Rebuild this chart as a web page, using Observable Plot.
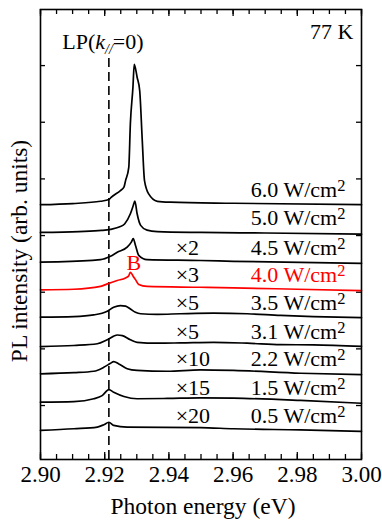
<!DOCTYPE html>
<html><head><meta charset="utf-8">
<script src="https://cdn.jsdelivr.net/npm/d3@7"></script>
<script src="https://cdn.jsdelivr.net/npm/@observablehq/plot@0.6"></script>
<style>body{margin:0;background:#fff} svg{display:block} svg text{font-family:"Liberation Serif","Times New Roman",serif}</style>
</head><body><div id="chart"></div>
<script>
// Excitation power densities (W/cm^2), bottom to top
const powers = ["0.5", "1.5", "2.2", "3.1", "3.5", "4.0", "4.5", "5.0", "6.0"];
const multipliers = ["×20", "×15", "×10", "×5", "×5", "×3", "×2", "", ""];
// vertical offsets of each spectrum (arb. units)
const offsets = [1.12, 2.12, 3.12, 4.08, 5.12, 6.085, 7.07, 8.11, 9.09];
const highlight = "4.0";
// spectra: [photon energy (eV), PL intensity above offset (arb. units)]
const s05 = [[2.900,0.00],[2.9104,0.06],[2.9177,0.12],[2.9197,0.20],[2.9213,0.29],[2.9228,0.18],[2.9270,0.12],[2.9498,0.10],[2.9601,0.06],[2.9810,0.02],[3.000,-0.03]];
const s15 = [[2.900,0.00],[2.9104,0.02],[2.9166,0.12],[2.9192,0.23],[2.9213,0.44],[2.9228,0.35],[2.9260,0.20],[2.9301,0.12],[2.9395,0.13],[2.9498,0.15],[2.9601,0.14],[2.9810,0.06],[3.000,-0.04]];
const s22 = [[2.900,0.00],[2.9104,0.04],[2.9166,0.09],[2.9197,0.23],[2.9218,0.37],[2.9228,0.43],[2.9244,0.35],[2.9270,0.18],[2.9301,0.12],[2.9395,0.09],[2.9498,0.14],[2.9601,0.12],[2.9810,0.02],[3.000,-0.03]];
const s31 = [[2.900,0.00],[2.9104,0.04],[2.9177,0.10],[2.9208,0.24],[2.9239,0.41],[2.9255,0.39],[2.9280,0.24],[2.9301,0.15],[2.9364,0.12],[2.9436,0.13],[2.9539,0.15],[2.9644,0.12],[2.9748,0.07],[2.9850,0.06],[3.000,0.01]];
const s35 = [[2.900,0.00],[2.9104,0.02],[2.9166,0.08],[2.9208,0.21],[2.9228,0.35],[2.9249,0.41],[2.9265,0.39],[2.9280,0.29],[2.9296,0.17],[2.9312,0.12],[2.9364,0.10],[2.9436,0.12],[2.9539,0.14],[2.9644,0.12],[2.9748,0.06],[2.9850,0.02],[3.000,-0.02]];
const s40 = [[2.900,0.00],[2.9104,0.02],[2.9187,0.12],[2.9208,0.21],[2.9239,0.33],[2.9265,0.42],[2.9275,0.50],[2.9280,0.62],[2.9289,0.47],[2.9296,0.36],[2.9306,0.19],[2.9332,0.12],[2.9498,0.09],[2.9601,0.07],[2.9800,0.02],[3.000,-0.03]];
const s45 = [[2.900,-0.01],[2.905,0.00],[2.9187,0.08],[2.9218,0.20],[2.9239,0.34],[2.9270,0.52],[2.9283,0.70],[2.9289,0.82],[2.9296,0.58],[2.9306,0.23],[2.9332,0.08],[2.9498,0.05],[2.9601,0.02],[3.000,-0.05]];
const s50 = [[2.900,0.00],[2.912,0.03],[2.9190,0.07],[2.9218,0.11],[2.9245,0.19],[2.9262,0.30],[2.9280,0.66],[2.9289,0.95],[2.9294,1.11],[2.9301,0.66],[2.9312,0.25],[2.9332,0.08],[2.9364,0.03],[2.950,0.00],[2.970,-0.02],[3.000,-0.06]];
const s60 = [[2.900,0.00],[2.910,0.04],[2.9187,0.12],[2.9213,0.18],[2.9220,0.26],[2.9249,0.50],[2.9260,0.62],[2.9265,0.85],[2.9275,1.32],[2.9280,2.87],[2.9288,4.15],[2.9292,4.95],[2.9301,4.50],[2.9309,4.03],[2.9317,2.27],[2.9324,0.85],[2.9337,0.38],[2.9364,0.12],[2.9405,0.09],[2.9601,0.05],[3.000,0.00]];
const spectra = [s05, s15, s22, s31, s35, s40, s45, s50, s60];
const xTicks = [2.90, 2.92, 2.94, 2.96, 2.98, 3.00];
const lpEnergy = 2.9213;   // LP(k=0) position
const peakB = 2.9291;      // "B" peak position

// layout constants
const W = 382, H = 521, mL = 40, mR = 21, mT = 9, mB = 62;
const FW = W - mL - mR, FH = H - mT - mB;
const yDomain = [0.095, 15.98];
const minorTicks = d3.range(0, 21).map(i => +(2.9 + i * 0.005).toFixed(3));
const yTicks = [2, 4, 6, 8, 10, 12, 14];

const rows = spectra.flatMap((s, i) => s.map(([e, I]) => ({e, v: offsets[i] + I, p: powers[i],
  c: powers[i] === highlight ? "#ff0000" : "#000000"})));
const lab = powers.map((p, i) => ({p, m: multipliers[i], y: offsets[i] + 0.26,
  c: p === highlight ? "#ff0000" : "#000000"}));

const chart = Plot.plot({
  width: W, height: H, marginLeft: mL, marginRight: mR, marginTop: mT, marginBottom: mB,
  style: "font-family: 'Liberation Serif', 'Times New Roman', serif; font-size: 23px; background: #fff; color: #000;",
  x: {domain: [2.90, 3.00], axis: null},
  y: {domain: yDomain, axis: null},
  color: {type: "identity"},
  marks: [
    Plot.tickX(minorTicks, {insetTop: FH - 5, strokeWidth: 1.3}),
    Plot.tickX(minorTicks, {insetBottom: FH - 5, strokeWidth: 1.3}),
    Plot.tickX(xTicks, {insetTop: FH - 7, strokeWidth: 1.3}),
    Plot.tickX(xTicks, {insetBottom: FH - 7, strokeWidth: 1.3}),
    Plot.tickY(yTicks, {insetRight: FW - 5, strokeWidth: 1.3}),
    Plot.tickY(yTicks, {insetLeft: FW - 5, strokeWidth: 1.3}),
    Plot.axisX(xTicks, {tickSize: 0, tickPadding: 6, tickFormat: d => d.toFixed(2), fontSize: 23, label: null}),
    Plot.ruleX([lpEnergy], {y1: yDomain[0], y2: 14.25, strokeDasharray: "9,5", strokeWidth: 1.6}),
    Plot.line(rows, {x: "e", y: "v", z: "p", stroke: "c", strokeWidth: 1.7, curve: "monotone-x"}),
    Plot.text(lab, {x: () => 2.995, y: "y", text: d => d.p + " W/cm²", fill: "c", textAnchor: "end", lineAnchor: "bottom", fontSize: 22}),
    Plot.text(lab.filter(d => d.m), {x: () => 2.9421, y: "y", text: "m", textAnchor: "start", lineAnchor: "bottom", fontSize: 22}),
    Plot.text(["B"], {x: () => peakB, y: () => offsets[powers.indexOf(highlight)] + 0.7, text: d => d, fill: "#ff0000", textAnchor: "middle", lineAnchor: "bottom", fontSize: 22}),
    Plot.text(["LP(k//=0)"], {x: () => 2.9068, y: () => 14.59, text: d => d, textAnchor: "start", lineAnchor: "bottom", fontSize: 22}),
    Plot.text(["77 K"], {x: () => 2.9975, y: () => 14.945, text: d => d, textAnchor: "end", lineAnchor: "bottom", fontSize: 22}),
    Plot.text(["Photon energy (eV)"], {frameAnchor: "bottom", dx: 2, dy: 54, text: d => d, lineAnchor: "bottom", fontSize: 23.5}),
    Plot.text(["PL intensity (arb. units)"], {frameAnchor: "left", rotate: -90, dx: -21, dy: 16.5, text: d => d, lineAnchor: "middle", textAnchor: "middle", fontSize: 23.5}),
    Plot.frame({strokeWidth: 1.6})
  ]
});
document.getElementById("chart").appendChild(chart);

// rich text: superscripts and italic subscript
d3.select(chart).selectAll("text").each(function() {
  const t = this.textContent;
  const sel = d3.select(this);
  if (t.endsWith("²")) {
    this.textContent = t.slice(0, -1);
    sel.append("tspan").attr("font-size", 16.5).attr("dy", -6).text("2");
  } else if (t === "LP(k//=0)") {
    this.textContent = "LP(";
    sel.append("tspan").attr("font-style", "italic").text("k");
    sel.append("tspan").attr("font-style", "italic").attr("font-size", 14).attr("dy", 5).text("//");
    sel.append("tspan").attr("dy", -5).text("=0)");
  }
});
</script></body></html>
